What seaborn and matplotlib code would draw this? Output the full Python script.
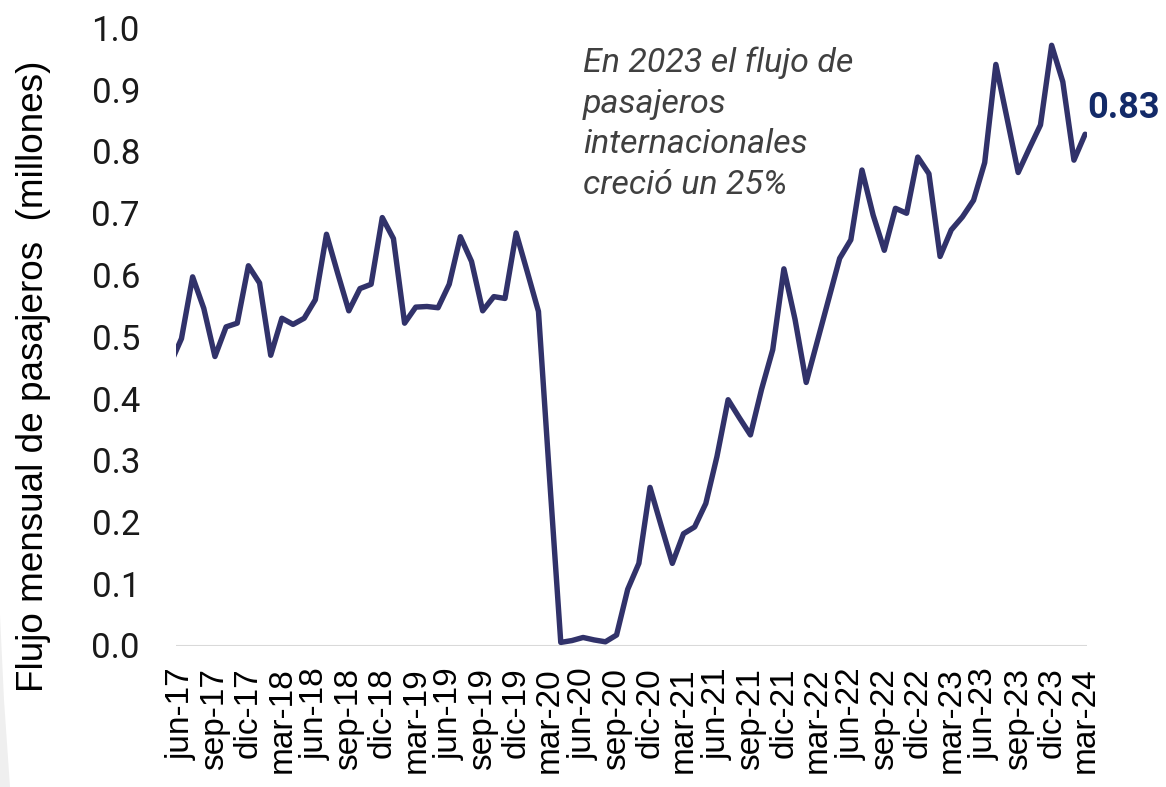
import numpy as np
import pandas as pd
import matplotlib
matplotlib.use("Agg")
import matplotlib.pyplot as plt
import seaborn as sns
from matplotlib.patches import Polygon

# Meses (may-17 a mar-24); may-17 queda recortado en el borde izquierdo
abrev = ["ene", "feb", "mar", "abr", "may", "jun", "jul", "ago", "sep", "oct", "nov", "dic"]
meses = [f"{abrev[m]}-{a % 100:02d}" for a in range(2017, 2025) for m in range(12)]
meses = meses[meses.index("may-17"):meses.index("mar-24") + 1]

# Flujo mensual de pasajeros internacionales (millones)
pasajeros = [
    0.456, 0.497, 0.597, 0.546, 0.468, 0.516, 0.522, 0.615,              # 2017
    0.587, 0.470, 0.530, 0.520, 0.530, 0.560, 0.666, 0.603,
    0.542, 0.578, 0.585, 0.693,                                          # 2018
    0.659, 0.522, 0.548, 0.549, 0.547, 0.585, 0.662, 0.622,
    0.542, 0.565, 0.562, 0.668,                                          # 2019
    0.605, 0.541, 0.270, 0.005, 0.008, 0.013, 0.009, 0.006,
    0.017, 0.091, 0.133, 0.256,                                          # 2020
    0.194, 0.133, 0.181, 0.192, 0.230, 0.306, 0.398, 0.369,
    0.341, 0.415, 0.479, 0.610,                                          # 2021
    0.528, 0.426, 0.493, 0.560, 0.627, 0.657, 0.770, 0.697,
    0.640, 0.708, 0.700, 0.791,                                          # 2022
    0.764, 0.630, 0.673, 0.694, 0.721, 0.782, 0.941, 0.854,
    0.766, 0.805, 0.843, 0.972,                                          # 2023
    0.913, 0.786, 0.828,                                                 # 2024
]

etiquetas = [
    "jun-17", "sep-17", "dic-17", "mar-18", "jun-18", "sep-18", "dic-18",
    "mar-19", "jun-19", "sep-19", "dic-19", "mar-20", "jun-20", "sep-20",
    "dic-20", "mar-21", "jun-21", "sep-21", "dic-21", "mar-22", "jun-22",
    "sep-22", "dic-22", "mar-23", "jun-23", "sep-23", "dic-23", "mar-24",
]
valores_y = [0.0, 0.1, 0.2, 0.3, 0.4, 0.5, 0.6, 0.7, 0.8, 0.9, 1.0]

nota = "En 2023 el flujo de\npasajeros\ninternacionales\ncreció un 25%"

df = pd.DataFrame({"mes": meses, "pasajeros": pasajeros})
df["pos"] = np.arange(len(df))

sns.set_theme(style="white")
plt.rcParams["font.family"] = ["Liberation Sans", "DejaVu Sans"]

W, H = 1166, 787
fig = plt.figure(figsize=(W / 100, H / 100), dpi=100)
fig.patches.append(Polygon([(0, 1 - 615 / H), (4 / W, 1 - 700 / H), (10 / W, 0), (0, 0)],
                           closed=True, transform=fig.transFigure,
                           facecolor="#efefef", edgecolor="none", zorder=0))
ax = fig.add_axes([176 / W, 1 - 645.5 / H, 911 / W, 617.5 / H])
ax.patch.set_alpha(0)

ax.axhline(0, color="#d9d9d9", lw=1.5, zorder=0)
sns.lineplot(data=df, x="pos", y="pasajeros", ax=ax, color="#31326a", linewidth=3.9)

ax.set_xlim(0.51, len(df) - 1 + 0.17)
ax.set_ylim(0, 1)
ax.set_xticks([meses.index(e) for e in etiquetas])
ax.set_xticklabels(etiquetas, rotation=90, fontsize=24, color="black")
ax.set_yticks(valores_y)
ax.set_yticklabels([f"{v:.1f}" for v in valores_y], family="Roboto", fontsize=25, color="#1a1a1a")
ax.tick_params(axis="x", length=0, pad=16)
ax.tick_params(axis="y", length=0, pad=26)
ax.set_xlabel("")
ax.set_ylabel("Flujo mensual de pasajeros  (millones)", fontsize=26.6, color="black")
ax.yaxis.set_label_coords(-0.1374, 0.4356)
for s in ax.spines.values():
    s.set_visible(False)

ax.text((583 - 176) / 911, (645.5 - 47) / 617.5, nota, transform=ax.transAxes,
        ha="left", va="top", family="Roboto", style="italic", fontsize=24.5,
        color="#404040", linespacing=1.34)

ax.annotate(f"{pasajeros[-1]:.2f}", xy=(df["pos"].iloc[-1], pasajeros[-1]),
            xytext=(2, 16), textcoords="offset pixels", ha="left", va="baseline",
            family="Roboto", weight="bold", fontsize=26, color="#132a68",
            annotation_clip=False)

fig.savefig("out.png", dpi=100)
